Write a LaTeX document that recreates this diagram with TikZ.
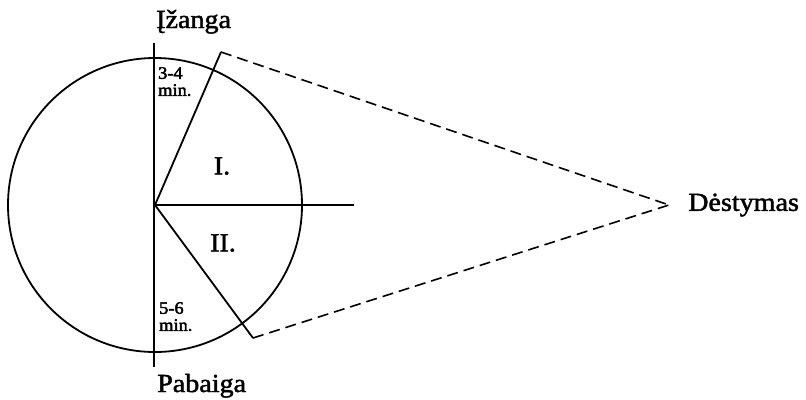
\documentclass[tikz,border=0pt]{standalone}
\usepackage{fontspec}
\setmainfont{Liberation Serif}[FakeStretch=1.08,FakeBold=1.8]
\newfontfamily\smallfam{Liberation Serif}[FakeStretch=1.05,FakeBold=2.6]
\begin{document}
\begin{tikzpicture}[x=1pt,y=-1pt,
  solid line/.style={line width=1.8pt},
  dash line/.style={line width=1.6pt,dash pattern=on 11pt off 6pt},
  big label/.style={font=\fontsize{26}{28}\selectfont,inner sep=0pt},
  small label/.style={font=\smallfam\fontsize{17.5}{17}\selectfont,inner sep=0pt,align=left,anchor=north west}]
\useasboundingbox (0,0) rectangle (806,399);
\coordinate (c) at (155,205);
\coordinate (top) at (154,43);
\coordinate (bot) at (154,367);
\coordinate (hend) at (354,205);
\coordinate (ua) at (221,52);
\coordinate (la) at (253,338);
\coordinate (apex) at (669,205);
\draw[solid line] (c) circle[radius=147];
\draw[solid line] (top) -- (bot);
\draw[solid line] (c) -- (hend);
\draw[solid line] (c) -- (ua);
\draw[solid line] (c) -- (la);
\draw[dash line] (ua) -- (apex);
\draw[dash line] (la) -- (apex);
\node[big label,anchor=base west] (izanga) at (156,28) {Įžanga};
\node[big label,anchor=base west] (pabaiga) at (157,392) {Pabaiga};
\node[big label,anchor=west] (destymas) at (688,205) {Dėstymas};
\node[big label] (one) at (222,166) {I.};
\node[big label] (two) at (223,243) {II.};
\node[small label] (t34) at (158,67) {3-4\\min.};
\node[small label] (t56) at (159,302) {5-6\\min.};
\end{tikzpicture}
\end{document}
